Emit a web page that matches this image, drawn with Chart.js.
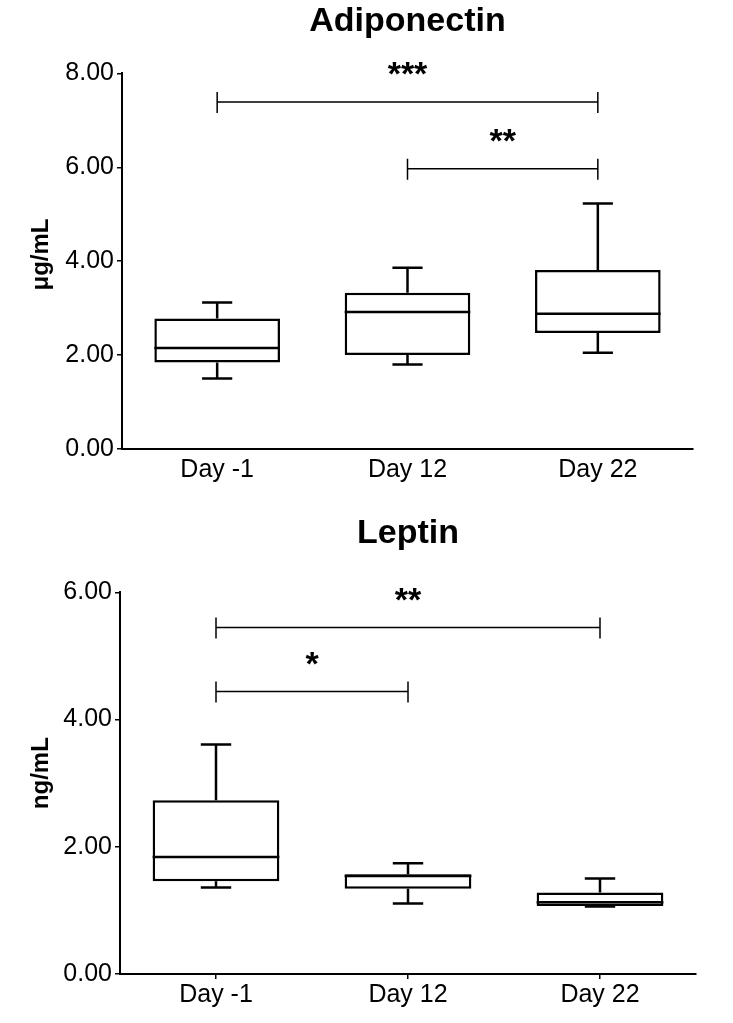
<!DOCTYPE html>
<html lang="en">
<head>
<meta charset="UTF-8">
<title>Adiponectin and Leptin</title>
<script src="https://cdn.jsdelivr.net/npm/chart.js@4.4.1/dist/chart.umd.min.js"></script>
<style>
  body { margin: 0; background: #fff; }
  .chart-box { position: relative; width: 733px; }
  #adipoBox { height: 500px; }
  #leptinBox { height: 523px; }
</style>
</head>
<body>
<div class="chart-box" id="adipoBox"><canvas id="adipoChart"></canvas></div>
<div class="chart-box" id="leptinBox"><canvas id="leptinChart"></canvas></div>

<script>
const days = ['Day -1', 'Day 12', 'Day 22'];

// Adiponectin (μg/mL) - box plot five numbers
const adipoMin = [1.50, 1.80, 2.05];
const adipoQ1 = [1.84, 2.00, 2.47];
const adipoMedian = [2.15, 2.92, 2.88];
const adipoQ3 = [2.78, 3.33, 3.81];
const adipoMax = [3.12, 3.86, 5.23];
const adipoSig = [
    { from: 0, to: 2, y: 7.39, stars: '***' },
    { from: 1, to: 2, y: 5.97, stars: '**' }
];

// Leptin (ng/mL)
const leptinMin = [1.36, 1.11, 1.06];
const leptinQ1 = [1.46, 1.34, 1.07];
const leptinMedian = [1.84, 1.54, 1.13];
const leptinQ3 = [2.73, 1.57, 1.28];
const leptinMax = [3.61, 1.74, 1.50];
const leptinSig = [
    { from: 0, to: 2, y: 5.45, stars: '**' },
    { from: 0, to: 1, y: 4.44, stars: '*' }
];

const FONT = '"Liberation Sans", Arial, sans-serif';

// whiskers, medians and significance brackets, drawn from the chart scales
function boxExtras(mins, medians, maxs, q1s, q3s, sig) {
    return {
        id: 'boxExtras',
        afterDatasetsDraw(chart) {
            const ctx = chart.ctx;
            const xs = chart.scales.x, ys = chart.scales.y;
            const bars = chart.getDatasetMeta(0).data;
            ctx.save();
            ctx.strokeStyle = '#000';
            ctx.lineCap = 'butt';
            bars.forEach((bar, i) => {
                const cx = xs.getPixelForValue(i);
                const half = bar.width / 2;
                const cap = bar.width * 0.12;
                ctx.lineWidth = 2.5;
                ctx.beginPath();
                // upper whisker
                ctx.moveTo(cx, ys.getPixelForValue(q3s[i]));
                ctx.lineTo(cx, ys.getPixelForValue(maxs[i]));
                ctx.moveTo(cx - cap, ys.getPixelForValue(maxs[i]));
                ctx.lineTo(cx + cap, ys.getPixelForValue(maxs[i]));
                // lower whisker
                ctx.moveTo(cx, ys.getPixelForValue(q1s[i]));
                ctx.lineTo(cx, ys.getPixelForValue(mins[i]));
                ctx.moveTo(cx - cap, ys.getPixelForValue(mins[i]));
                ctx.lineTo(cx + cap, ys.getPixelForValue(mins[i]));
                // median
                ctx.moveTo(cx - half, ys.getPixelForValue(medians[i]));
                ctx.lineTo(cx + half, ys.getPixelForValue(medians[i]));
                ctx.stroke();
            });
            sig.forEach(s => {
                const x1 = xs.getPixelForValue(s.from);
                const x2 = xs.getPixelForValue(s.to);
                const yy = ys.getPixelForValue(s.y);
                ctx.lineWidth = 1.5;
                ctx.beginPath();
                ctx.moveTo(x1, yy);
                ctx.lineTo(x2, yy);
                ctx.moveTo(x1, yy - 10);
                ctx.lineTo(x1, yy + 11);
                ctx.moveTo(x2, yy - 10);
                ctx.lineTo(x2, yy + 11);
                ctx.stroke();
                ctx.fillStyle = '#000';
                ctx.font = 'bold 34px ' + FONT;
                ctx.textAlign = 'center';
                ctx.textBaseline = 'middle';
                ctx.fillText(s.stars, (x1 + x2) / 2, yy - 26);
            });
            ctx.restore();
        }
    };
}

function makeBoxChart(id, title, unit, q1s, q3s, mins, medians, maxs, sig, yMax, lay) {
    return new Chart(document.getElementById(id), {
        type: 'bar',
        data: {
            labels: days,
            datasets: [{
                data: days.map((d, i) => [q1s[i], q3s[i]]),
                backgroundColor: '#fff',
                borderColor: '#000',
                borderWidth: 2.5,
                borderSkipped: false,
                categoryPercentage: 1,
                barPercentage: 0.66
            }]
        },
        options: {
            responsive: true,
            maintainAspectRatio: false,
            animation: false,
            layout: { padding: { top: lay.top, left: 27, right: lay.right, bottom: 0 } },
            plugins: {
                legend: { display: false },
                tooltip: { enabled: false },
                title: {
                    display: true,
                    fullSize: false,
                    text: title,
                    color: '#000',
                    font: { family: FONT, size: 34, weight: 'bold', lineHeight: 1.1 },
                    padding: { top: 0, bottom: lay.titleGap }
                }
            },
            scales: {
                x: {
                    afterFit: s => { s.height = lay.xHeight; },
                    border: { display: true, color: '#000', width: 2 },
                    grid: { offset: false, drawOnChartArea: false, drawTicks: lay.xTicks, tickLength: 5, color: '#000', lineWidth: 1.5 },
                    ticks: { color: '#000', font: { family: FONT, size: 25 }, padding: lay.xTicks ? 1 : 6 }
                },
                y: {
                    min: 0,
                    max: yMax,
                    afterFit: s => { s.width = lay.yWidth; },
                    border: { display: true, color: '#000', width: 2 },
                    grid: { drawOnChartArea: false, tickLength: 5, color: '#000', lineWidth: 1.5 },
                    ticks: {
                        stepSize: 2,
                        color: '#000',
                        font: { family: FONT, size: 25 },
                        padding: 3,
                        callback: v => v.toFixed(2)
                    },
                    title: {
                        display: true,
                        text: unit,
                        color: '#000',
                        font: { family: FONT, size: 24, weight: 'bold' },
                        padding: 0
                    }
                }
            }
        },
        plugins: [boxExtras(mins, medians, maxs, q1s, q3s, sig)]
    });
}

makeBoxChart('adipoChart', 'Adiponectin', '  μg/mL',
    adipoQ1, adipoQ3, adipoMin, adipoMedian, adipoMax, adipoSig, 8,
    { top: 3, right: 40, titleGap: 33, xHeight: 51, yWidth: 95, xTicks: false });

makeBoxChart('leptinChart', 'Leptin', '   ng/mL',
    leptinQ1, leptinQ3, leptinMin, leptinMedian, leptinMax, leptinSig, 6,
    { top: 15, right: 37, titleGap: 40, xHeight: 49, yWidth: 93, xTicks: true });
</script>
</body>
</html>
